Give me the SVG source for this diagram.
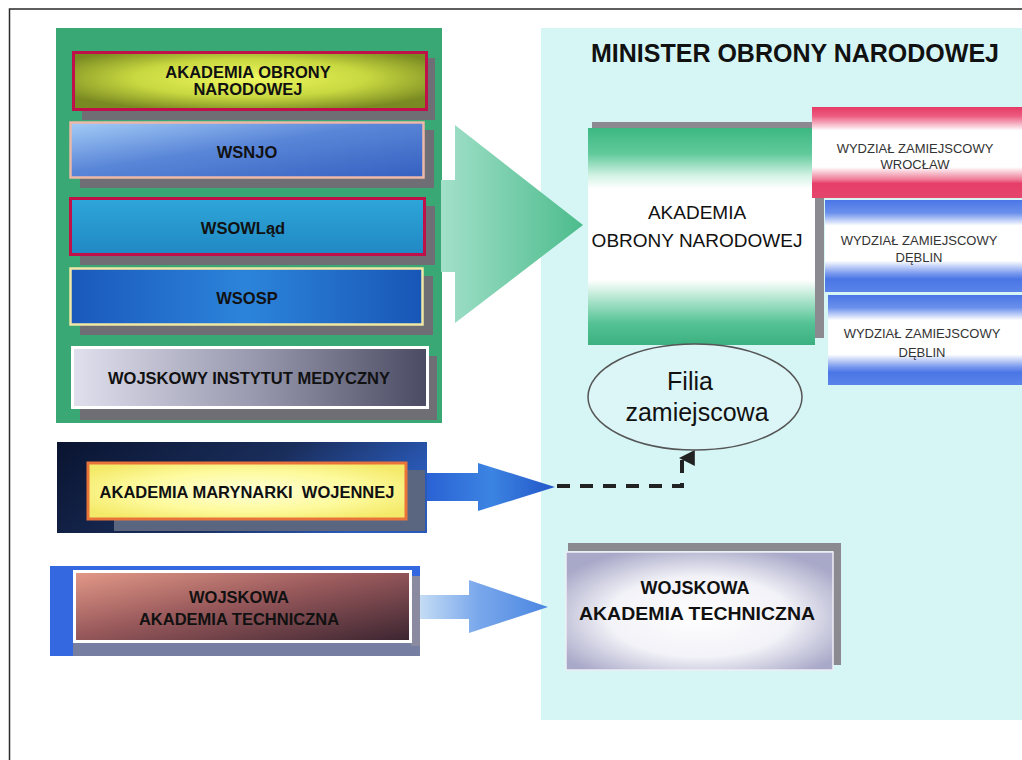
<svg xmlns="http://www.w3.org/2000/svg" width="1022" height="760" viewBox="0 0 1022 760">
<style>
  .t { font-family: "Liberation Sans", Arial, sans-serif; fill: #111; text-anchor: middle; }
  .b { font-weight: bold; }
  .l16 { font-size: 16.5px; }
  .wz { font-size: 13px; fill: #333; }
  .shadow { fill: #6e6e74; }
  .sh2 { fill: #8a8a90; }
</style>
<defs>
  <radialGradient id="gAon" cx="0.5" cy="0.45" r="0.6">
    <stop offset="0" stop-color="#f0f860"/>
    <stop offset="0.55" stop-color="#c8d840"/>
    <stop offset="1" stop-color="#7a8a22"/>
  </radialGradient>
  <linearGradient id="gWsnjo" x1="0" y1="0" x2="1" y2="1">
    <stop offset="0" stop-color="#a4ccf6"/>
    <stop offset="0.45" stop-color="#5a86d8"/>
    <stop offset="1" stop-color="#3660c0"/>
  </linearGradient>
  <linearGradient id="gWsow" x1="0" y1="0" x2="0" y2="1">
    <stop offset="0" stop-color="#2ea6d8"/>
    <stop offset="1" stop-color="#2088c4"/>
  </linearGradient>
  <linearGradient id="gWsosp" x1="0" y1="0" x2="1" y2="0">
    <stop offset="0" stop-color="#1a58bc"/>
    <stop offset="0.5" stop-color="#2c84da"/>
    <stop offset="1" stop-color="#1856b6"/>
  </linearGradient>
  <linearGradient id="gWim" x1="0" y1="0" x2="1" y2="0">
    <stop offset="0" stop-color="#e0e0ee"/>
    <stop offset="0.5" stop-color="#9a9ab0"/>
    <stop offset="1" stop-color="#4a4a62"/>
  </linearGradient>
  <linearGradient id="gArrowG" x1="0" y1="0" x2="1" y2="0">
    <stop offset="0" stop-color="#a2e0ca"/>
    <stop offset="1" stop-color="#4cbc8c"/>
  </linearGradient>
  <linearGradient id="gAonBox" x1="0" y1="0" x2="0" y2="1">
    <stop offset="0" stop-color="#3cb883"/>
    <stop offset="0.12" stop-color="#62ca9c"/>
    <stop offset="0.22" stop-color="#d4f3e6"/>
    <stop offset="0.28" stop-color="#ffffff"/>
    <stop offset="0.7" stop-color="#ffffff"/>
    <stop offset="0.8" stop-color="#a6e2c8"/>
    <stop offset="0.9" stop-color="#54c294"/>
    <stop offset="1" stop-color="#3cb080"/>
  </linearGradient>
  <linearGradient id="gRed" x1="0" y1="0" x2="0" y2="1">
    <stop offset="0" stop-color="#e63a66"/>
    <stop offset="0.1" stop-color="#ec5c80"/>
    <stop offset="0.26" stop-color="#ffffff"/>
    <stop offset="0.66" stop-color="#ffffff"/>
    <stop offset="0.8" stop-color="#ee7894"/>
    <stop offset="0.84" stop-color="#e63e68"/>
    <stop offset="1" stop-color="#e4466c"/>
  </linearGradient>
  <linearGradient id="gBlue" x1="0" y1="0" x2="0" y2="1">
    <stop offset="0" stop-color="#4a76e6"/>
    <stop offset="0.14" stop-color="#6a90ec"/>
    <stop offset="0.28" stop-color="#ffffff"/>
    <stop offset="0.66" stop-color="#ffffff"/>
    <stop offset="0.8" stop-color="#7898ee"/>
    <stop offset="0.86" stop-color="#4a76e6"/>
    <stop offset="1" stop-color="#5a84ea"/>
  </linearGradient>
  <linearGradient id="gAmwBg" x1="0" y1="0" x2="1" y2="0.3">
    <stop offset="0" stop-color="#0a1430"/>
    <stop offset="0.6" stop-color="#1a2e5c"/>
    <stop offset="1" stop-color="#2a5ab8"/>
  </linearGradient>
  <radialGradient id="gAmw" cx="0.5" cy="0.5" r="0.6">
    <stop offset="0" stop-color="#ffffd8"/>
    <stop offset="0.6" stop-color="#fdfa9c"/>
    <stop offset="1" stop-color="#f4ea6a"/>
  </radialGradient>
  <linearGradient id="gArrowB" x1="0" y1="0" x2="1" y2="0">
    <stop offset="0" stop-color="#2a62d4"/>
    <stop offset="0.5" stop-color="#3c84e2"/>
    <stop offset="1" stop-color="#2256c8"/>
  </linearGradient>
  <linearGradient id="gWatL" x1="0" y1="0" x2="1" y2="1">
    <stop offset="0" stop-color="#e49a88"/>
    <stop offset="0.45" stop-color="#9a5a5c"/>
    <stop offset="1" stop-color="#3a2430"/>
  </linearGradient>
  <linearGradient id="gArrowL" x1="0" y1="0" x2="1" y2="0">
    <stop offset="0" stop-color="#c4dcf4"/>
    <stop offset="0.45" stop-color="#7aa8ec"/>
    <stop offset="1" stop-color="#4a86e0"/>
  </linearGradient>
  <radialGradient id="gWatR" cx="0.5" cy="0.55" r="0.62">
    <stop offset="0" stop-color="#ffffff"/>
    <stop offset="0.55" stop-color="#f2f2f8"/>
    <stop offset="1" stop-color="#a8a8c8"/>
  </radialGradient>
  <marker id="mUp" viewBox="0 0 10 10" refX="5" refY="2" markerWidth="4" markerHeight="4" orient="auto" markerUnits="strokeWidth">
    <path d="M0,10 L5,0 L10,10 Z" fill="#222"/>
  </marker>
</defs>

<!-- background -->
<rect width="1022" height="760" fill="#ffffff"/>
<path d="M1022 9 H9.5 V760" fill="none" stroke="#2a2a2a" stroke-width="1.5"/>
<rect id="panel-mon" x="541" y="28" width="481" height="692" fill="#d6f6f6"/>
<rect id="panel-green" x="56" y="28" width="386" height="395" fill="#3aa874"/>

<!-- connectors -->
<g id="connectors">
  <polygon points="441,180 455,180 455,125 583,225 455,323 455,272 441,272" fill="url(#gArrowG)"/>
  <polygon points="427,473 478,473 478,463 555,487 478,511 478,501 427,501" fill="url(#gArrowB)"/>
  <path d="M557 486 H682 V458" fill="none" stroke="#222" stroke-width="4" stroke-dasharray="13 10" marker-end="url(#mUp)"/>
  <polygon points="420,595 469,595 469,580 548,607 469,633 469,619 420,619" fill="url(#gArrowL)"/>
</g>

<!-- left panel nodes -->
<g id="n-aon-old">
  <rect class="shadow" x="82" y="58" width="353" height="62"/>
  <rect x="73.5" y="52.5" width="353" height="57" fill="url(#gAon)" stroke="#c0104a" stroke-width="3"/>
  <text class="t b l16" x="248" y="78">AKADEMIA OBRONY</text>
  <text class="t b l16" x="248" y="95">NARODOWEJ</text>
</g>
<g id="n-wsnjo">
  <rect class="shadow" x="80" y="130" width="354" height="58"/>
  <rect x="70.5" y="122.5" width="353" height="55" fill="url(#gWsnjo)" stroke="#ecb8a8" stroke-width="2.5"/>
  <text class="t b l16" x="247" y="158">WSNJO</text>
</g>
<g id="n-wsowlad">
  <rect class="shadow" x="80" y="206" width="355" height="59"/>
  <rect x="70.5" y="198.5" width="354" height="56" fill="url(#gWsow)" stroke="#c0104a" stroke-width="3"/>
  <text class="t b l16" x="243" y="234">WSOWLąd</text>
</g>
<g id="n-wsosp">
  <rect class="shadow" x="80" y="276" width="353" height="59"/>
  <rect x="70.5" y="268.5" width="352" height="56" fill="url(#gWsosp)" stroke="#f0e8a4" stroke-width="2.5"/>
  <text class="t b l16" x="247" y="304">WSOSP</text>
</g>
<g id="n-wim">
  <rect class="shadow" x="80" y="356" width="357" height="64"/>
  <rect x="72.5" y="347.5" width="355" height="60" fill="url(#gWim)" stroke="#ffffff" stroke-width="3"/>
  <text class="t b l16" x="249" y="384">WOJSKOWY INSTYTUT MEDYCZNY</text>
</g>

<!-- AMW -->
<g id="n-amw">
  <rect x="57" y="442" width="370" height="91" fill="url(#gAmwBg)"/>
  <rect x="114" y="519" width="311" height="12" fill="#5a6680"/>
  <rect x="406" y="470" width="19" height="61" fill="#5a6680"/>
  <rect x="88" y="463" width="318" height="56" fill="url(#gAmw)" stroke="#e8743a" stroke-width="3"/>
  <text class="t b l16" x="247" y="498" xml:space="preserve">AKADEMIA MARYNARKI  WOJENNEJ</text>
</g>

<!-- WAT left -->
<g id="n-wat-old">
  <rect x="50" y="566" width="370" height="90" fill="#3468e0"/>
  <rect x="73" y="642" width="347" height="14" fill="#767ea2"/>
  <rect x="411" y="576" width="9" height="70" fill="#8a8aa0"/>
  <rect x="74.5" y="571.5" width="336" height="70" fill="url(#gWatL)" stroke="#ffffff" stroke-width="3"/>
  <text class="t b l16" x="239" y="603">WOJSKOWA</text>
  <text class="t b l16" x="239" y="625">AKADEMIA TECHNICZNA</text>
</g>

<!-- Minister -->
<g id="n-minister">
  <text class="t b" x="795" y="62" font-size="26" textLength="408" lengthAdjust="spacingAndGlyphs">MINISTER OBRONY NARODOWEJ</text>
</g>

<!-- AON new -->
<g id="n-aon">
  <rect class="sh2" x="592" y="122" width="231" height="7"/>
  <rect class="sh2" x="815" y="122" width="9" height="216"/>
  <rect x="588" y="128" width="227" height="217" fill="url(#gAonBox)"/>
  <text class="t" x="697" y="219" font-size="19">AKADEMIA</text>
  <text class="t" x="697" y="247" font-size="19">OBRONY NARODOWEJ</text>
</g>

<!-- Wydziały -->
<g id="n-wz-wroclaw">
  <rect x="812" y="107" width="210" height="91" fill="url(#gRed)"/>
  <text class="t wz" x="915" y="153">WYDZIAŁ ZAMIEJSCOWY</text>
  <text class="t wz" x="915" y="169">WROCŁAW</text>
</g>
<g id="n-wz-deblin1">
  <rect x="825" y="200" width="197" height="92" fill="url(#gBlue)"/>
  <text class="t wz" x="919" y="245">WYDZIAŁ ZAMIEJSCOWY</text>
  <text class="t wz" x="919" y="262">DĘBLIN</text>
</g>
<g id="n-wz-deblin2">
  <rect x="828" y="295" width="194" height="90" fill="url(#gBlue)"/>
  <text class="t wz" x="922" y="338">WYDZIAŁ ZAMIEJSCOWY</text>
  <text class="t wz" x="922" y="357">DĘBLIN</text>
</g>

<!-- Filia -->
<g id="n-filia">
  <ellipse cx="695" cy="397" rx="107" ry="53" fill="#dcf6f8" stroke="#555" stroke-width="1.5"/>
  <text class="t" x="690" y="390" font-size="25" fill="#222">Filia</text>
  <text class="t" x="697" y="421" font-size="25" fill="#222">zamiejscowa</text>
</g>

<!-- WAT new -->
<g id="n-wat">
  <rect class="sh2" x="568" y="543" width="273" height="8"/>
  <rect class="sh2" x="833" y="549" width="8" height="116"/>
  <rect x="566" y="552" width="267" height="118" fill="url(#gWatR)" stroke="#eeeef6" stroke-width="1.5"/>
  <text class="t b" x="695" y="594" font-size="18">WOJSKOWA</text>
  <text class="t b" x="697" y="620" font-size="18" textLength="236" lengthAdjust="spacingAndGlyphs">AKADEMIA TECHNICZNA</text>
</g>
</svg>
